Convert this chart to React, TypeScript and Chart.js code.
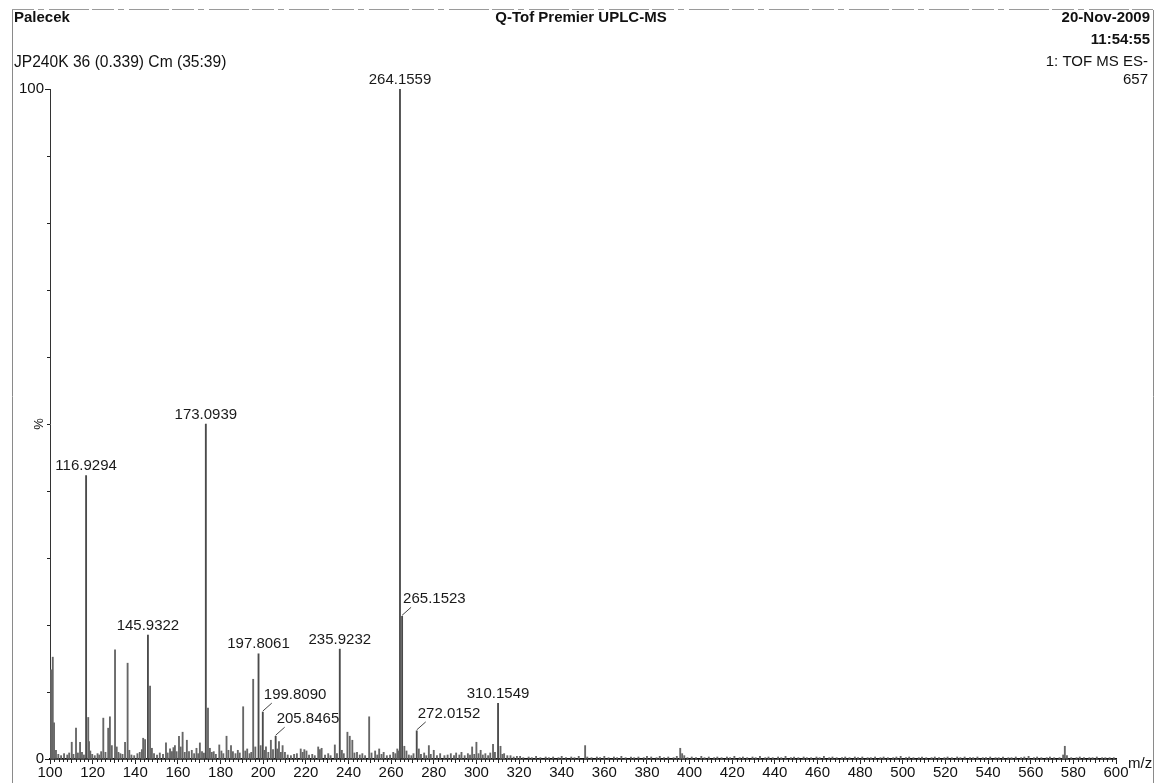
import { useEffect, useRef } from "react";
import { Chart, registerables } from "chart.js";

Chart.register(...registerables);

const FONT = "'Liberation Sans', Arial, sans-serif";

// Header / annotation text
const sampleName = "Palecek";
const instrumentName = "Q-Tof Premier UPLC-MS";
const runDate = "20-Nov-2009";
const runTime = "11:54:55";
const scanInfo = "JP240K 36 (0.339) Cm (35:39)";
const functionInfo = "1: TOF MS ES-";
const basePeakCounts = "657";
const xAxisTitle = "m/z";
const yAxisTitle = "%";

// Axis ticks
const xTickValues = [100, 120, 140, 160, 180, 200, 220, 240, 260, 280, 300, 320, 340, 360, 380, 400, 420, 440, 460, 480, 500, 520, 540, 560, 580, 600];
const yLabelledTicks = [0, 100];
const yMinorTicks = [10, 20, 30, 40, 50, 60, 70, 80, 90];

// Annotated peaks: m/z, relative intensity (%), and whether the label is offset with a leader
const labelledMz = [264.1559, 173.0939, 116.9294, 265.1523, 145.9322, 235.9232, 197.8061, 310.1549, 199.809, 272.0152, 205.8465];
const labelledIntensity = [100, 50.0, 42.3, 21.3, 18.5, 16.4, 15.7, 8.3, 7.0, 4.2, 3.4];
const labelledLeader = [false, false, false, true, false, false, false, false, true, true, true];

// Unannotated peaks [m/z, %]
const lowMassPeaks: [number, number][] = [
  [100.5, 13.3], [101.3, 15.2], [101.9, 5.4], [102.8, 1.3], [103.9, 0.7], [105.2, 0.5], [106.6, 0.8],
  [108.1, 0.6], [109.0, 0.9], [110.2, 2.5], [111.0, 0.7], [112.2, 4.6], [113.1, 0.9], [114.1, 2.5],
  [115.0, 1.0], [115.9, 0.6], [117.93, 6.2], [118.3, 2.6], [118.9, 1.2], [119.8, 0.7], [121.0, 0.5],
  [122.3, 0.8], [123.1, 0.6], [124.0, 1.1], [125.0, 6.1], [126.0, 1.0], [127.3, 4.6], [128.1, 6.3],
  [129.0, 2.0], [130.5, 16.3], [131.3, 1.8], [132.1, 1.0], [133.0, 0.8], [134.0, 0.7], [135.2, 2.5],
  [136.4, 14.3], [137.2, 1.3], [138.2, 0.6], [139.5, 0.5], [141.0, 0.8], [142.1, 1.0], [143.1, 1.4],
  [143.7, 3.1], [144.6, 2.9], [146.93, 10.9], [147.8, 1.6], [148.8, 0.8], [150.2, 0.6], [151.5, 0.9],
  [153.0, 0.7], [154.4, 2.4], [155.2, 0.9], [156.3, 1.5], [157.2, 1.1], [157.9, 1.7], [158.6, 2.0],
  [159.4, 1.1], [160.5, 3.4], [161.3, 1.8], [162.2, 4.0], [163.2, 1.0], [164.2, 2.8], [165.2, 1.1],
  [166.5, 1.3], [167.6, 0.8], [168.7, 1.6], [169.5, 0.8], [170.3, 2.4], [171.3, 1.1], [172.2, 0.9],
  [174.1, 7.6], [175.0, 1.6], [175.9, 1.0], [176.8, 1.1], [177.8, 0.7], [179.4, 2.1], [180.4, 1.2],
  [181.3, 0.8], [182.8, 3.4], [183.7, 1.3], [184.9, 2.0], [185.8, 1.1], [187.0, 0.8], [188.1, 1.3],
  [189.0, 0.9], [190.6, 7.8], [191.6, 1.2], [192.5, 1.5], [193.6, 0.8], [194.4, 1.0], [195.3, 11.9],
  [196.3, 1.8], [198.8, 2.0],
];

const midMassPeaks: [number, number][] = [
  [200.6, 1.3], [201.3, 1.8], [202.4, 1.0], [203.6, 2.8], [204.6, 1.4], [206.6, 1.5], [207.4, 2.6],
  [208.3, 1.0], [209.1, 2.0], [210.2, 1.0], [211.5, 0.6], [213.0, 0.5], [214.5, 0.7], [215.8, 0.8],
  [217.6, 1.5], [218.5, 1.0], [219.3, 1.4], [220.3, 1.2], [221.5, 0.6], [223.0, 0.7], [224.2, 0.5],
  [225.8, 1.8], [226.6, 1.4], [227.4, 1.6], [229.0, 0.6], [230.5, 0.8], [231.6, 0.5], [233.6, 2.1],
  [234.6, 0.8], [236.9, 1.3], [237.8, 0.8], [239.5, 4.0], [240.6, 3.4], [241.8, 2.8], [242.8, 0.9],
  [244.0, 1.0], [245.3, 0.6], [246.5, 0.8], [247.8, 0.5], [249.7, 6.3], [250.8, 0.9], [252.5, 1.2],
  [253.5, 0.6], [254.4, 1.5], [255.5, 0.7], [256.5, 1.0], [258.0, 0.5], [259.5, 0.6], [261.0, 1.0],
  [262.0, 0.8], [262.9, 1.5], [263.5, 1.2], [266.2, 1.9], [267.2, 1.2], [268.3, 0.6], [269.5, 0.5],
  [270.5, 0.8], [273.0, 1.5], [274.0, 0.7], [275.5, 0.9], [276.5, 0.5], [277.7, 2.0], [278.6, 0.7],
  [280.0, 1.3], [281.5, 0.5], [283.0, 0.8], [285.0, 0.5], [286.5, 0.6], [288.0, 0.8], [289.5, 0.5],
  [290.5, 0.9], [292.0, 0.6], [293.0, 1.0], [294.5, 0.5], [296.0, 0.8], [297.0, 0.6], [298.0, 1.8],
  [299.0, 0.7], [300.0, 2.5], [301.0, 0.8], [302.0, 1.3], [303.0, 0.6], [304.2, 0.8], [305.5, 0.5],
  [306.5, 0.9], [307.8, 2.2], [308.7, 1.0], [311.3, 1.9], [312.2, 0.7], [313.0, 0.8], [314.5, 0.5],
  [316.0, 0.5], [317.5, 0.3], [319.0, 0.4], [320.5, 0.4],
];

const highMassPeaks: [number, number][] = [
  [322, 0.2], [324.5, 0.3], [326, 0.2], [328, 0.4], [330, 0.2], [332.5, 0.3], [334, 0.2], [336, 0.3],
  [338.5, 0.2], [340, 0.4], [342, 0.2], [344.5, 0.3], [346, 0.2], [348, 0.4], [351.0, 2.0], [352, 0.3],
  [354, 0.2], [356.5, 0.3], [358, 0.2], [360, 0.4], [362, 0.2], [364.5, 0.3], [366, 0.2], [368, 0.4],
  [370, 0.2], [372.5, 0.3], [374, 0.2], [376, 0.3], [378.5, 0.2], [380, 0.4], [382, 0.3], [384.5, 0.2],
  [386, 0.4], [388, 0.2], [390, 0.3], [392.5, 0.2], [394, 0.4], [395.6, 1.6], [396.5, 0.8], [397.5, 0.5],
  [399, 0.2], [401, 0.3], [403, 0.2], [405.5, 0.4], [407, 0.2], [409, 0.3], [411.5, 0.2], [413, 0.3],
  [415, 0.2], [417.5, 0.3], [419, 0.2], [421, 0.4], [423.5, 0.2], [425, 0.3], [427, 0.2], [429.5, 0.3],
  [431, 0.2], [433, 0.4], [435.5, 0.2], [437, 0.3], [439, 0.2], [441.5, 0.3], [443, 0.2], [445, 0.4],
  [447.5, 0.2], [449, 0.3], [451, 0.2], [453.5, 0.3], [455, 0.2], [457, 0.2], [459.5, 0.3], [461, 0.2],
  [463, 0.4], [465.5, 0.2], [467, 0.3], [469, 0.2], [471.5, 0.2], [473, 0.3], [475, 0.2], [477.5, 0.3],
  [479, 0.2], [481, 0.3], [483.5, 0.2], [485, 0.2], [487, 0.3], [489.5, 0.2], [491, 0.3], [493, 0.2],
  [495.5, 0.2], [497, 0.3], [499, 0.4], [501.5, 0.2], [503, 0.3], [505, 0.2], [507.5, 0.2], [509, 0.3],
  [511, 0.2], [513.5, 0.2], [515, 0.3], [517, 0.2], [519.5, 0.2], [521, 0.3], [523, 0.2], [525.5, 0.3],
  [527, 0.2], [529, 0.3], [531.5, 0.2], [533, 0.2], [535, 0.3], [537.5, 0.2], [539, 0.2], [541, 0.3],
  [543.5, 0.2], [545, 0.2], [547, 0.3], [549.5, 0.2], [551, 0.2], [553, 0.3], [555.5, 0.2], [557, 0.3],
  [559, 0.4], [561.5, 0.2], [563, 0.3], [565, 0.2], [567.5, 0.2], [569, 0.3], [571, 0.2], [573.5, 0.2],
  [575.2, 0.6], [576.0, 1.9], [577, 0.5], [579, 0.2], [581.5, 0.2], [583, 0.3], [585, 0.2], [587.5, 0.2],
  [589, 0.2], [591, 0.3], [593.5, 0.2], [595, 0.2], [597, 0.2], [599, 0.2],
];

const CANVAS_W = 1157;
const CANVAS_H = 783;

// Page furniture, peak annotations and fine axis ticks drawn on top of the bars
const spectrumDecorations = {
  id: "spectrumDecorations",
  afterDraw(chart: any) {
    const { ctx } = chart;
    const x = chart.scales.x;
    const y = chart.scales.y;
    const area = chart.chartArea;
    ctx.save();

    // printout frame
    ctx.strokeStyle = "#9a9a9a";
    ctx.lineWidth = 1;
    ctx.setLineDash([22, 4, 6, 5, 40, 3]);
    ctx.beginPath();
    ctx.moveTo(12, 9.5);
    ctx.lineTo(1153, 9.5);
    ctx.stroke();
    ctx.setLineDash([]);
    ctx.strokeStyle = "#8a8a8a";
    ctx.beginPath();
    ctx.moveTo(12.5, 10);
    ctx.lineTo(12.5, CANVAS_H);
    ctx.moveTo(1153.5, 10);
    ctx.lineTo(1153.5, CANVAS_H);
    ctx.stroke();

    // header
    ctx.fillStyle = "#111";
    ctx.textBaseline = "middle";
    ctx.font = `bold 15px ${FONT}`;
    ctx.textAlign = "left";
    ctx.fillText(sampleName, 14, 18);
    ctx.textAlign = "center";
    ctx.fillText(instrumentName, 581, 18);
    ctx.textAlign = "right";
    ctx.fillText(runDate, 1150, 18);
    ctx.fillText(runTime, 1150, 40);
    ctx.font = `15.6px ${FONT}`;
    ctx.textAlign = "left";
    ctx.fillText(scanInfo, 14, 63);
    ctx.font = `15px ${FONT}`;
    ctx.textAlign = "right";
    ctx.fillText(functionInfo, 1148, 62);
    ctx.fillText(basePeakCounts, 1148, 80);

    // axis titles
    ctx.textAlign = "left";
    ctx.fillText(xAxisTitle, area.right + 12, area.bottom + 5);
    ctx.save();
    ctx.translate(area.left - 11, y.getPixelForValue(50));
    ctx.rotate(-Math.PI / 2);
    ctx.textAlign = "center";
    ctx.font = `13px ${FONT}`;
    ctx.fillText(yAxisTitle, 0, 0);
    ctx.restore();

    // minor ticks
    ctx.strokeStyle = "#222";
    ctx.lineWidth = 1;
    ctx.beginPath();
    for (const v of yMinorTicks) {
      const py = Math.round(y.getPixelForValue(v)) + 0.5;
      ctx.moveTo(area.left - 3, py);
      ctx.lineTo(area.left, py);
    }
    for (let v = 102; v < 600; v += 2) {
      if (v % 20 === 0) continue;
      const px = Math.round(x.getPixelForValue(v)) + 0.5;
      ctx.moveTo(px, area.bottom);
      ctx.lineTo(px, area.bottom + (v % 10 === 0 ? 4 : 3));
    }
    ctx.stroke();

    // peak labels
    ctx.fillStyle = "#1a1a1a";
    ctx.strokeStyle = "#444";
    ctx.font = `15px ${FONT}`;
    labelledMz.forEach((mz, i) => {
      const px = x.getPixelForValue(mz);
      const top = y.getPixelForValue(labelledIntensity[i]);
      const text = mz.toFixed(4);
      if (labelledLeader[i]) {
        ctx.beginPath();
        ctx.moveTo(px + 9, top - 9);
        ctx.lineTo(px, top - 1);
        ctx.stroke();
        ctx.textAlign = "left";
        ctx.textBaseline = "middle";
        ctx.fillText(text, px + 1, top - 17);
      } else {
        ctx.textAlign = "center";
        ctx.textBaseline = "bottom";
        ctx.fillText(text, px, top - 2);
      }
    });

    ctx.restore();
  },
};

const toPoints = (list: [number, number][]) => list.map(([mz, v]) => ({ x: mz, y: v }));

export default function App() {
  const canvasRef = useRef<HTMLCanvasElement | null>(null);

  useEffect(() => {
    document.body.style.margin = "0";
    document.body.style.background = "#fff";
    const canvas = canvasRef.current;
    if (!canvas) return;

    const chart = new Chart(canvas, {
      type: "bar",
      data: {
        datasets: [
          {
            data: [...toPoints(lowMassPeaks), ...toPoints(midMassPeaks), ...toPoints(highMassPeaks)],
            backgroundColor: "#666",
            barThickness: 1.2,
            grouped: false,
            borderWidth: 0,
          } as any,
          {
            data: labelledMz.map((mz, i) => ({ x: mz, y: labelledIntensity[i] })),
            backgroundColor: "#4a4a4a",
            barThickness: 1.2,
            grouped: false,
            borderWidth: 0,
          } as any,
        ],
      },
      options: {
        responsive: false,
        devicePixelRatio: 1,
        animation: false,
        events: [],
        layout: { padding: { top: 89, right: 41, bottom: 0, left: 0 } },
        plugins: {
          legend: { display: false },
          tooltip: { enabled: false },
        },
        scales: {
          x: {
            type: "linear",
            min: 100,
            max: 600,
            offset: false,
            afterBuildTicks: (s: any) => {
              s.ticks = xTickValues.map((v) => ({ value: v }));
            },
            afterFit: (s: any) => {
              s.height = 24;
            },
            ticks: {
              autoSkip: false,
              maxRotation: 0,
              padding: 0,
              color: "#111",
              font: { family: FONT, size: 15 },
            },
            grid: { drawOnChartArea: false, drawTicks: true, tickLength: 5, color: "#222", offset: false },
            border: { color: "#111", width: 1.8 },
          },
          y: {
            min: 0,
            max: 100,
            afterBuildTicks: (s: any) => {
              s.ticks = yLabelledTicks.map((v) => ({ value: v }));
            },
            afterFit: (s: any) => {
              s.width = 50;
            },
            ticks: {
              padding: 1,
              color: "#111",
              font: { family: FONT, size: 15 },
            },
            grid: { drawOnChartArea: false, drawTicks: true, tickLength: 5, color: "#222" },
            border: { color: "#333", width: 1 },
          },
        },
      } as any,
      plugins: [spectrumDecorations],
    });

    return () => chart.destroy();
  }, []);

  return (
    <div style={{ width: CANVAS_W, height: CANVAS_H, background: "#fff" }}>
      <canvas ref={canvasRef} width={CANVAS_W} height={CANVAS_H} style={{ display: "block" }} />
    </div>
  );
}
